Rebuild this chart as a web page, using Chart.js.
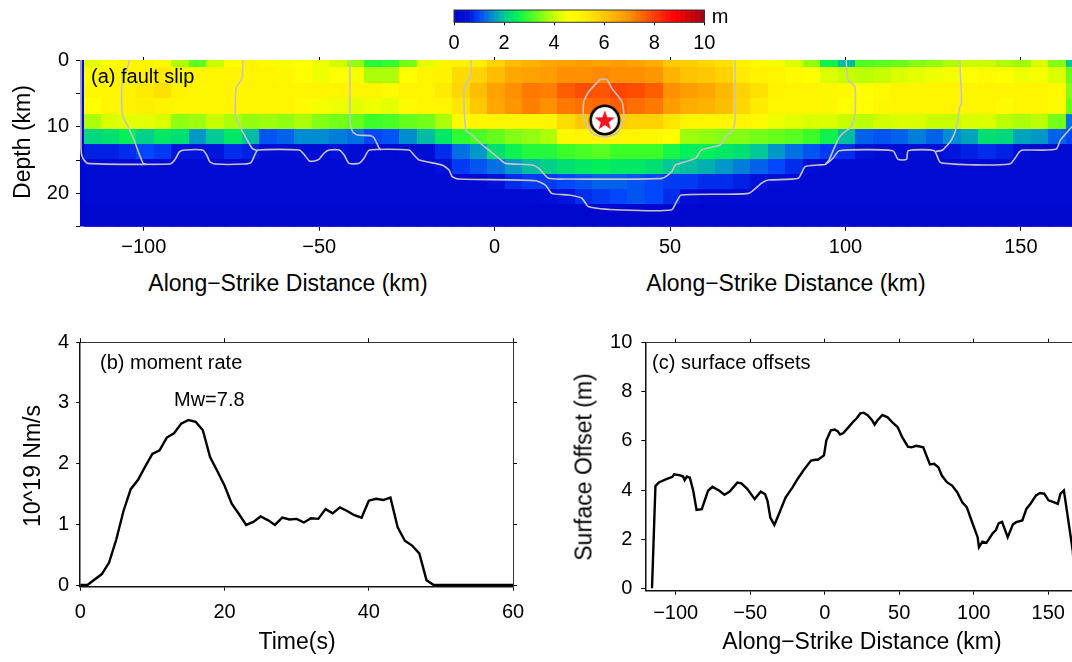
<!DOCTYPE html>
<html>
<head>
<meta charset="utf-8">
<script src="https://cdn.jsdelivr.net/npm/chart.js@4.4.0/dist/chart.umd.min.js"></script>
<style>
  html, body { margin: 0; padding: 0; width: 1072px; height: 662px; overflow: hidden; background: #fff; }
  canvas { position: absolute; }
  .lbl { position: absolute; font-family: "Liberation Sans", Arial, Helvetica, sans-serif; color: #000; white-space: nowrap; line-height: 1; }
  .c { transform: translate(-50%, -50%); }
  .l { transform: translateY(-50%); }
  .r { transform: translate(-50%, -50%) rotate(-90deg); }
</style>
</head>
<body>
<canvas id="slipChart" width="1100" height="262" style="left:0px;top:0px"></canvas>
<canvas id="scaleBar" width="320" height="62" style="left:430px;top:0px"></canvas>
<canvas id="momentChart" width="540" height="342" style="left:0px;top:320px"></canvas>
<canvas id="offsetChart" width="560" height="342" style="left:540px;top:320px"></canvas>

<div class="lbl c" style="left:720px;top:16px;font-size:20px">m</div>
<div class="lbl l" style="left:91px;top:76px;font-size:20px">(a) fault slip</div>
<div class="lbl r" style="left:22px;top:142px;font-size:23px">Depth (km)</div>
<div class="lbl c" style="left:288px;top:283px;font-size:23px">Along&#8722;Strike Distance (km)</div>
<div class="lbl c" style="left:786px;top:283px;font-size:23px">Along&#8722;Strike Distance (km)</div>

<div class="lbl l" style="left:100px;top:362px;font-size:20px">(b) moment rate</div>
<div class="lbl l" style="left:174px;top:399px;font-size:20px">Mw=7.8</div>
<div class="lbl r" style="left:32px;top:466px;font-size:23px">10^19 Nm/s</div>
<div class="lbl c" style="left:297px;top:641px;font-size:23px">Time(s)</div>

<div class="lbl l" style="left:652px;top:362px;font-size:20px">(c) surface offsets</div>
<div class="lbl r" style="left:584px;top:467px;font-size:23px">Surface Offset (m)</div>
<div class="lbl c" style="left:862px;top:641px;font-size:23px">Along&#8722;Strike Distance (km)</div>

<script>
// ---- fault slip grid (m), 5 km columns starting at -117 km, rows by depth ----
const slipX0 = -117;
const slipDx = 5;
const slipDepthEdges = [0, 1.15, 3.5, 5.75, 8.15, 10.35, 12.65, 14.9, 17.15, 19.4, 21.65, 25];
const slip = [
  [4.3,4.6,5.0,5.0,4.8,3.8,3.2,4.0,4.7,5.0,4.8,4.5,4.6, 4.4,4.1,3.6,2.8,2.9,3.4,4.3,5.0,5.1,5.2,5.8,6.2,6.4,6.6, 6.7,6.8,6.7,6.8,6.7,6.5,6.0,5.9,5.7,5.5,5.1,4.9,4.5,4.2,3.6, 2.6,1.9,3.1,3.2,3.3,3.5,3.6,3.8,4.0,4.0,3.8,3.7,4.2,3.5,2.0],
  [4.7,5.0,5.0,5.1,5.3,5.0,5.0,5.0,5.0,5.0,5.0,4.9,4.7, 4.4,4.6,4.5,3.8,3.8,4.6,5.0,5.1,5.6,5.8,6.2,6.6,6.7,6.8, 7.0,7.0,7.1,7.0,7.0,6.9,6.4,6.1,6.0,5.8,5.3,5.1,5.0,4.8,4.6, 4.2,4.0,3.9,4.0,4.2,4.3,4.4,4.5,4.6,4.8,4.6,4.4,4.5,4.2,3.3],
  [4.9,5.0,5.1,5.3,5.5,5.1,5.0,5.0,5.0,5.0,5.0,5.0,5.0, 5.0,5.0,5.0,5.0,4.8,5.0,5.0,5.3,5.7,6.2,6.7,7.0,7.3,7.2, 7.6,7.8,7.7,7.9,7.8,7.6,7.0,6.8,6.6,6.3,5.8,5.5,5.1,5.0,5.0, 4.9,4.8,4.6,4.8,5.0,5.0,5.0,5.0,5.0,5.0,5.0,5.0,5.0,4.8,3.5],
  [4.6,5.0,5.1,5.2,5.1,5.0,5.0,5.0,5.0,5.0,5.0,5.0,4.8, 4.5,4.4,4.3,4.4,4.3,4.8,5.0,5.0,5.4,6.0,6.6,6.9,7.2,7.0, 7.3,7.4,7.5,7.6,7.4,7.3,6.8,6.5,6.4,6.2,5.7,5.3,5.0,5.0,5.0, 4.9,4.6,4.7,4.9,5.0,5.0,5.0,5.0,5.0,5.0,4.8,5.0,5.0,4.8,3.3],
  [3.8,4.2,4.3,4.3,4.2,3.6,3.7,4.0,3.8,3.6,3.7,3.6,3.8, 3.5,3.4,3.3,3.0,3.1,3.3,3.4,3.8,4.8,5.0,5.0,5.0,5.0,5.0, 5.6,6.0,6.2,5.9,5.8,5.8,5.4,5.0,5.0,5.0,5.0,4.8,4.4,4.3,4.2, 4.2,4.0,3.9,4.1,4.2,4.2,4.0,4.0,4.2,4.2,3.9,3.8,3.9,3.4,1.3],
  [2.2,2.3,2.5,2.1,2.4,2.3,1.6,2.0,2.4,1.9,1.1,1.2,1.5, 1.5,1.4,1.3,1.0,1.1,1.5,1.9,2.4,2.9,3.1,3.3,3.5,3.6,3.8, 4.9,5.0,5.0,5.0,5.0,4.9,4.7,3.7,3.6,3.5,3.5,3.4,3.3,3.2,3.0, 2.6,1.9,1.2,1.1,1.2,1.4,1.2,1.5,1.7,2.3,2.2,1.7,1.6,1.2,1.0],
  [0.7,0.7,0.8,1.0,0.9,0.6,0.6,0.6,0.8,0.7,0.4,0.4,0.4, 0.4,0.5,0.4,0.3,0.3,0.4,0.4,0.8,1.3,1.6,2.3,2.6,2.8,2.8, 3.0,3.1,3.2,3.0,3.0,3.0,2.7,2.5,2.5,2.4,2.3,2.0,1.6,1.3,1.1, 0.9,0.8,0.5,0.4,0.4,0.4,0.4,0.6,0.7,0.8,0.7,0.4,0.3,0.3,0.3],
  [0.3,0.3,0.3,0.3,0.3,0.3,0.3,0.3,0.3,0.3,0.3,0.3,0.3, 0.3,0.3,0.3,0.3,0.3,0.3,0.3,0.5,0.9,1.1,1.3,1.6,1.9,2.1, 2.3,2.4,2.5,2.4,2.4,2.3,2.0,1.9,1.8,1.6,1.4,1.2,1.0,0.8,0.4, 0.3,0.3,0.3,0.3,0.3,0.3,0.3,0.3,0.3,0.3,0.3,0.3,0.3,0.3,0.3],
  [0.3,0.3,0.3,0.3,0.3,0.3,0.3,0.3,0.3,0.3,0.3,0.3,0.3, 0.3,0.3,0.3,0.3,0.3,0.3,0.3,0.3,0.3,0.3,0.5,0.8,0.9,0.9, 1.0,1.1,1.2,1.2,1.1,1.0,0.9,0.9,0.8,0.8,0.7,0.5,0.4,0.3,0.3, 0.3,0.3,0.3,0.3,0.3,0.3,0.3,0.3,0.3,0.3,0.3,0.3,0.3,0.3,0.3],
  [0.3,0.3,0.3,0.3,0.3,0.3,0.3,0.3,0.3,0.3,0.3,0.3,0.3, 0.3,0.3,0.3,0.3,0.3,0.3,0.3,0.3,0.3,0.3,0.3,0.3,0.3,0.4, 0.6,0.8,0.9,1.0,1.1,1.0,0.8,0.4,0.3,0.3,0.3,0.3,0.3,0.3,0.3, 0.3,0.3,0.3,0.3,0.3,0.3,0.3,0.3,0.3,0.3,0.3,0.3,0.3,0.3,0.3],
  [0.2,0.2,0.2,0.2,0.2,0.2,0.2,0.2,0.2,0.2,0.2,0.2,0.2, 0.2,0.2,0.2,0.2,0.2,0.2,0.2,0.2,0.2,0.2,0.2,0.2,0.2,0.2, 0.2,0.2,0.2,0.2,0.2,0.2,0.2,0.2,0.2,0.2,0.2,0.2,0.2,0.2,0.2, 0.2,0.2,0.2,0.2,0.2,0.2,0.2,0.2,0.2,0.2,0.2,0.2,0.2,0.2,0.2]
];

// rupture-front contours, [along-strike km, depth km]
const frontHypo = [[30.1,2.9],[32.0,2.9],[33.4,4.25],[36.3,6.25],[36.8,8.75],[34.9,11.0],[31.4,11.55],[27.8,11.0],[25.4,8.75],[25.4,6.25],[26.8,4.75],[30.1,2.9]];
const frontInner = [[-6.8,0],[-6.8,2.25],[-8.7,4.25],[-8.2,10.5],[-6.4,11.25],[-3.5,12.75],[-1.6,13.5],[1.2,14.75],[3.1,15.5],[10.7,15.75],[12.6,16.25],[15.4,17.75],[21.1,17.85],[47.7,17.75],[50.5,16.75],[51.5,15.75],[57.2,14.75],[59.0,13.5],[64.3,12.75],[65.7,11.5],[67.6,10.75],[68.5,9.25],[68.5,0]];
const frontLower = [[-117.9,0],[-117.9,13.5],[-117.4,14.7],[-116.0,15.5],[-92.6,15.6],[-91.2,15.0],[-89.8,13.75],[-88.3,13.5],[-83.2,13.5],[-82.1,14.25],[-81.2,15.25],[-79.8,15.6],[-71.3,15.6],[-69.4,15.35],[-68.4,14.25],[-67.5,13.5],[-55.7,13.5],[-54.2,14.25],[-52.8,15.15],[-51.4,15.15],[-50.0,14.85],[-48.6,13.95],[-47.2,13.5],[-44.3,13.5],[-42.9,14.25],[-41.5,15.5],[-38.6,15.5],[-37.2,14.7],[-35.7,13.5],[-24.4,13.5],[-23.0,14.25],[-21.5,15.0],[-15.0,15.75],[-13.0,16.5],[-12.1,17.5],[-10.2,17.85],[11.7,18.1],[14.5,18.75],[16.3,20.0],[21.1,20.25],[24.8,20.7],[26.8,22.0],[36.2,22.5],[50.4,22.5],[51.8,21.3],[53.2,20.25],[72.3,20.0],[76.0,18.5],[78.0,18.0],[86.5,17.75],[88.5,16.0],[92.2,15.75],[94.3,15.65],[96.5,14.7],[98.2,13.6],[113.5,13.6],[115.0,14.9],[117.4,14.9],[117.9,13.6],[125.3,13.6],[127.2,15.4],[146.8,15.6],[149.6,13.75],[150.5,13.5],[160.0,13.4],[161.3,12.0],[163.9,10.4],[165.5,9.5]];
const frontW1 = [[-104,0],[-106.2,3.75],[-106.1,8.25],[-104.5,10],[-102.6,12.25],[-101.2,14.25],[-100.2,15.5],[-99.5,15.6]];
const frontW2 = [[-71.8,0],[-72.0,2.75],[-73.7,4.25],[-73.9,8.25],[-72.3,10.25],[-70.8,11.75],[-69.1,13.25],[-67.5,13.6]];
const frontW3 = [[-41.2,0],[-41.2,9.25],[-40.5,10.75],[-39.1,11.25],[-35.3,11.35],[-34.3,11.75],[-32.9,13.25],[-32.4,13.5]];
const frontE1 = [[100.2,0],[100.7,3],[102.7,4],[102.7,8],[101.7,10],[99.2,11],[97.8,12],[95.3,15],[94.3,15.6]];
const frontE2 = [[132.6,0],[133.1,6.5],[132.6,7],[131.7,10],[130.2,12],[127.7,13.5],[125.8,13.7]];
const hypocenter = [31.4, 9.0];

// ---- moment rate (10^19 Nm/s) ----
const momentTime = [0,1,2,3,4,5,6,7,8,9,10,11,12,13,14,15,16,17,18,19,20,21,22,23,24,25,26,27,28,29,30,31,32,33,34,35,36,37,38,39,40,41,42,43,44,45,46,47,48,49,60];
const momentRate = [0,0,0.09,0.18,0.37,0.75,1.22,1.58,1.73,1.95,2.16,2.22,2.43,2.5,2.66,2.72,2.69,2.55,2.11,1.88,1.64,1.34,1.17,0.99,1.04,1.13,1.07,0.99,1.11,1.08,1.09,1.03,1.1,1.09,1.25,1.18,1.28,1.22,1.15,1.11,1.39,1.42,1.4,1.44,0.95,0.73,0.65,0.52,0.08,0,0];

// ---- surface offsets (m) along strike (km) ----
const offsetKm = [-115.9,-113.6,-111.3,-106.7,-102.2,-101,-97,-95,-94,-92.5,-90.5,-88.2,-86,-82.5,-78.3,-75.3,-73,-70.7,-67.3,-63.8,-58.6,-55.9,-52,-47,-42.9,-40,-38.4,-36.5,-33.8,-30.8,-26.3,-21.7,-18.3,-13.7,-9.2,-6.4,-4.6,-0.5,1.1,4.1,6.8,8.6,10.3,12.5,16,19.4,21.6,23.9,26.2,29.1,31.9,33.5,35.3,38.7,42.2,46,49,52,55.8,58.1,61.5,66.1,70.6,73.4,76.3,78.6,82,85.5,88.9,92.3,95.3,98.5,102.6,103.5,105.8,108.5,112.6,114.9,116.7,119,122.8,126.3,128.5,132.6,135.4,138.1,141.8,144.5,147.3,150.2,153.6,156.4,158.2,160.5,166.5,168];
const offsetM = [0,4.16,4.31,4.43,4.54,4.64,4.6,4.55,4.4,4.55,4.5,3.96,3.19,3.22,3.97,4.13,4.05,3.97,3.81,3.94,4.3,4.27,4.05,3.63,3.94,3.83,3.56,2.88,2.58,3.01,3.69,4.1,4.44,4.85,5.2,5.23,5.23,5.41,6.02,6.43,6.46,6.4,6.26,6.32,6.56,6.8,6.93,7.12,7.15,7.03,6.83,6.66,6.83,7.06,6.96,6.72,6.56,6.15,5.77,5.74,5.8,5.74,5.04,5.07,4.93,4.59,4.32,4.18,3.91,3.5,3.3,2.76,2.08,1.67,1.9,1.85,2.23,2.37,2.64,2.7,2.08,2.6,2.69,2.76,3.24,3.44,3.78,3.88,3.85,3.58,3.51,3.44,3.85,3.98,1.5,0];

const distTicks = [-100, -50, 0, 50, 100, 150];

Chart.defaults.font.family = '"Liberation Sans", Arial, Helvetica, sans-serif';
Chart.defaults.color = '#000';

const tickFont = { size: 20 };
const fmtKm = v => (v < 0 ? '\u2212' + Math.abs(v) : String(v));
const setTicks = list => scale => { scale.ticks = list.map(v => ({ value: v })); };

// jet-like slip palette
const slipStops = [
  [0, [0,0,200]], [0.6, [0,20,220]], [1.0, [0,70,250]], [1.5, [0,140,210]], [2.0, [0,200,150]],
  [2.5, [0,240,90]], [3.0, [60,255,40]], [3.5, [130,255,20]], [4.0, [200,255,0]], [4.6, [255,255,0]],
  [5.2, [255,240,0]], [6.0, [255,200,0]], [7.0, [255,145,0]], [8.0, [255,60,0]], [8.8, [255,0,0]], [10, [165,0,20]]
];
function slipColor(v) {
  v = Math.max(0, Math.min(10, v));
  for (let i = 1; i < slipStops.length; i++) {
    const [v1, c1] = slipStops[i];
    if (v <= v1) {
      const [v0, c0] = slipStops[i - 1];
      const f = (v - v0) / (v1 - v0);
      const c = c0.map((a, k) => Math.round(a + (c1[k] - a) * f));
      return `rgb(${c[0]},${c[1]},${c[2]})`;
    }
  }
  return 'rgb(165,0,20)';
}

// draws the slip cells behind the contour lines
const slipGrid = {
  id: 'slipGrid',
  beforeDatasetsDraw(chart) {
    const { ctx, chartArea: a, scales: { x, y } } = chart;
    ctx.save();
    ctx.beginPath();
    ctx.rect(a.left, a.top, a.right - a.left, a.bottom - a.top);
    ctx.clip();
    ctx.fillStyle = slipColor(0.2);
    ctx.fillRect(a.left, a.top, a.right - a.left, a.bottom - a.top);
    slip.forEach((row, r) => {
      const y0 = Math.floor(y.getPixelForValue(slipDepthEdges[r]));
      const y1 = Math.ceil(y.getPixelForValue(slipDepthEdges[r + 1]));
      row.forEach((v, c) => {
        const x0 = Math.floor(x.getPixelForValue(slipX0 + c * slipDx));
        const x1 = Math.ceil(x.getPixelForValue(slipX0 + (c + 1) * slipDx));
        ctx.fillStyle = slipColor(v);
        ctx.fillRect(x0, y0, x1 - x0, y1 - y0);
      });
    });
    ctx.restore();
  }
};

// hypocentre symbol: red star in a white disc
function hypoSymbol() {
  const c = document.createElement('canvas');
  c.width = 34; c.height = 34;
  const g = c.getContext('2d');
  g.beginPath();
  g.arc(17, 17, 14.2, 0, Math.PI * 2);
  g.fillStyle = '#fff';
  g.fill();
  g.lineWidth = 2.6;
  g.strokeStyle = '#000';
  g.stroke();
  g.beginPath();
  for (let i = 0; i < 10; i++) {
    const rad = i % 2 === 0 ? 10.5 : 4.3;
    const ang = -Math.PI / 2 + i * Math.PI / 5;
    g.lineTo(17 + rad * Math.cos(ang), 17.8 + rad * Math.sin(ang));
  }
  g.closePath();
  g.fillStyle = '#f0141e';
  g.fill();
  return c;
}

const contourLine = pts => ({
  data: pts.map(p => ({ x: p[0], y: p[1] })),
  showLine: true,
  borderColor: '#c4c4c4',
  borderWidth: 1.6,
  pointRadius: 0,
  tension: 0.2
});

const noGrid = { drawOnChartArea: false, color: '#000', tickLength: 4 };

new Chart(document.getElementById('slipChart'), {
  type: 'scatter',
  data: {
    datasets: [
      ...[frontHypo, frontInner, frontLower, frontW1, frontW2, frontW3, frontE1, frontE2].map(contourLine),
      { data: [{ x: hypocenter[0], y: hypocenter[1] }], pointStyle: hypoSymbol(), pointRadius: 15 }
    ]
  },
  options: {
    responsive: false,
    animation: false,
    layout: { padding: { left: 0, right: 13.6, top: 54, bottom: 0 } },
    plugins: { legend: { display: false }, tooltip: { enabled: false } },
    scales: {
      x: {
        type: 'linear', position: 'bottom', min: -118.2, max: 168,
        afterBuildTicks: setTicks(distTicks),
        ticks: { callback: fmtKm, font: tickFont, padding: 5, maxRotation: 0 },
        grid: noGrid, border: { display: false },
        afterFit: s => { s.height = 262 - 226.7; }
      },
      xTop: {
        type: 'linear', position: 'top', min: -118.2, max: 168,
        afterBuildTicks: setTicks(distTicks),
        ticks: { display: false },
        grid: { drawOnChartArea: false, color: '#000', tickLength: 3 }, border: { display: false },
        afterFit: s => { s.height = 6; }
      },
      y: {
        type: 'linear', position: 'left', min: 0, max: 25, reverse: true,
        afterBuildTicks: setTicks([0, 5, 10, 15, 20, 25]),
        ticks: { callback: v => (v % 10 === 0 ? v : ''), font: tickFont, padding: 7 },
        grid: noGrid, border: { display: false },
        afterFit: s => { s.width = 80; }
      }
    }
  },
  plugins: [slipGrid]
});

// colour scale above the slip panel
const colorBar = {
  id: 'colorBar',
  beforeDatasetsDraw(chart) {
    const { ctx, chartArea: a, scales: { x } } = chart;
    ctx.save();
    for (let v = 0; v < 10; v += 0.05) {
      const x0 = x.getPixelForValue(v);
      const x1 = x.getPixelForValue(v + 0.05);
      ctx.fillStyle = slipColor(v + 0.025);
      ctx.fillRect(x0, a.top, x1 - x0 + 0.6, a.bottom - a.top);
    }
    ctx.strokeStyle = '#333';
    ctx.lineWidth = 1;
    ctx.strokeRect(a.left, a.top, a.right - a.left, a.bottom - a.top);
    ctx.restore();
  }
};

new Chart(document.getElementById('scaleBar'), {
  type: 'scatter',
  data: { datasets: [] },
  options: {
    responsive: false,
    animation: false,
    layout: { padding: { left: 24, right: 45.7, top: 10, bottom: 0 } },
    plugins: { legend: { display: false }, tooltip: { enabled: false } },
    scales: {
      x: {
        type: 'linear', min: 0, max: 10,
        afterBuildTicks: setTicks([0, 2, 4, 6, 8, 10]),
        ticks: { font: tickFont, padding: 6, maxRotation: 0 },
        grid: { drawOnChartArea: false, color: '#000', tickLength: 3 }, border: { display: false },
        afterFit: s => { s.height = 62 - 22.3; }
      },
      y: { display: false, min: 0, max: 1 }
    }
  },
  plugins: [colorBar]
});

const frameAxis = (pos, min, max, ticks, size) => ({
  type: 'linear', position: pos, min, max,
  afterBuildTicks: setTicks(ticks),
  ticks: { display: false },
  grid: { drawOnChartArea: false, color: '#000', tickLength: 4 },
  border: { color: '#333', width: 1 },
  afterFit: s => { if (pos === 'top') s.height = size; else s.width = size; }
});

new Chart(document.getElementById('momentChart'), {
  type: 'scatter',
  data: {
    datasets: [{
      data: momentTime.map((t, i) => ({ x: t, y: momentRate[i] })),
      showLine: true, borderColor: '#000', borderWidth: 2.4, pointRadius: 0, tension: 0
    }]
  },
  options: {
    responsive: false,
    animation: false,
    layout: { padding: { left: 0, right: 0, top: 16.3, bottom: 0 } },
    plugins: { legend: { display: false }, tooltip: { enabled: false } },
    scales: {
      x: {
        type: 'linear', position: 'bottom', min: 0, max: 60,
        afterBuildTicks: setTicks([0, 20, 40, 60]),
        ticks: { font: tickFont, padding: 10, maxRotation: 0 },
        grid: noGrid, border: { color: '#111', width: 1.5 },
        afterFit: s => { s.height = 342 - 266.7; }
      },
      xTop: frameAxis('top', 0, 60, [0, 20, 40, 60], 6),
      y: {
        type: 'linear', position: 'left', min: -0.028, max: 4,
        afterBuildTicks: setTicks([0, 1, 2, 3, 4]),
        ticks: { font: tickFont, padding: 7 },
        grid: noGrid, border: { color: '#111', width: 1.5 },
        afterFit: s => { s.width = 80.2; }
      },
      yRight: frameAxis('right', -0.028, 4, [0, 1, 2, 3, 4], 540 - 513.1)
    }
  }
});

new Chart(document.getElementById('offsetChart'), {
  type: 'scatter',
  data: {
    datasets: [{
      data: offsetKm.map((k, i) => ({ x: k, y: offsetM[i] })),
      showLine: true, borderColor: '#000', borderWidth: 2.4, pointRadius: 0, tension: 0
    }]
  },
  options: {
    responsive: false,
    animation: false,
    layout: { padding: { left: 0, right: 0, top: 16.7, bottom: 0 } },
    plugins: { legend: { display: false }, tooltip: { enabled: false } },
    scales: {
      x: {
        type: 'linear', position: 'bottom', min: -120.4, max: 175,
        afterBuildTicks: setTicks(distTicks),
        ticks: { callback: fmtKm, font: tickFont, padding: 7, maxRotation: 0 },
        grid: noGrid, border: { color: '#111', width: 1.5 },
        afterFit: s => { s.height = 342 - 270.7; }
      },
      xTop: frameAxis('top', -120.4, 175, distTicks, 6),
      y: {
        type: 'linear', position: 'left', min: -0.1, max: 10,
        afterBuildTicks: setTicks([0, 2, 4, 6, 8, 10]),
        ticks: { font: tickFont, padding: 9 },
        grid: noGrid, border: { color: '#111', width: 1.5 },
        afterFit: s => { s.width = 105.3; }
      },
      yRight: frameAxis('right', -0.1, 10, [0, 2, 4, 6, 8, 10], 14.5)
    }
  }
});
</script>
</body>
</html>
